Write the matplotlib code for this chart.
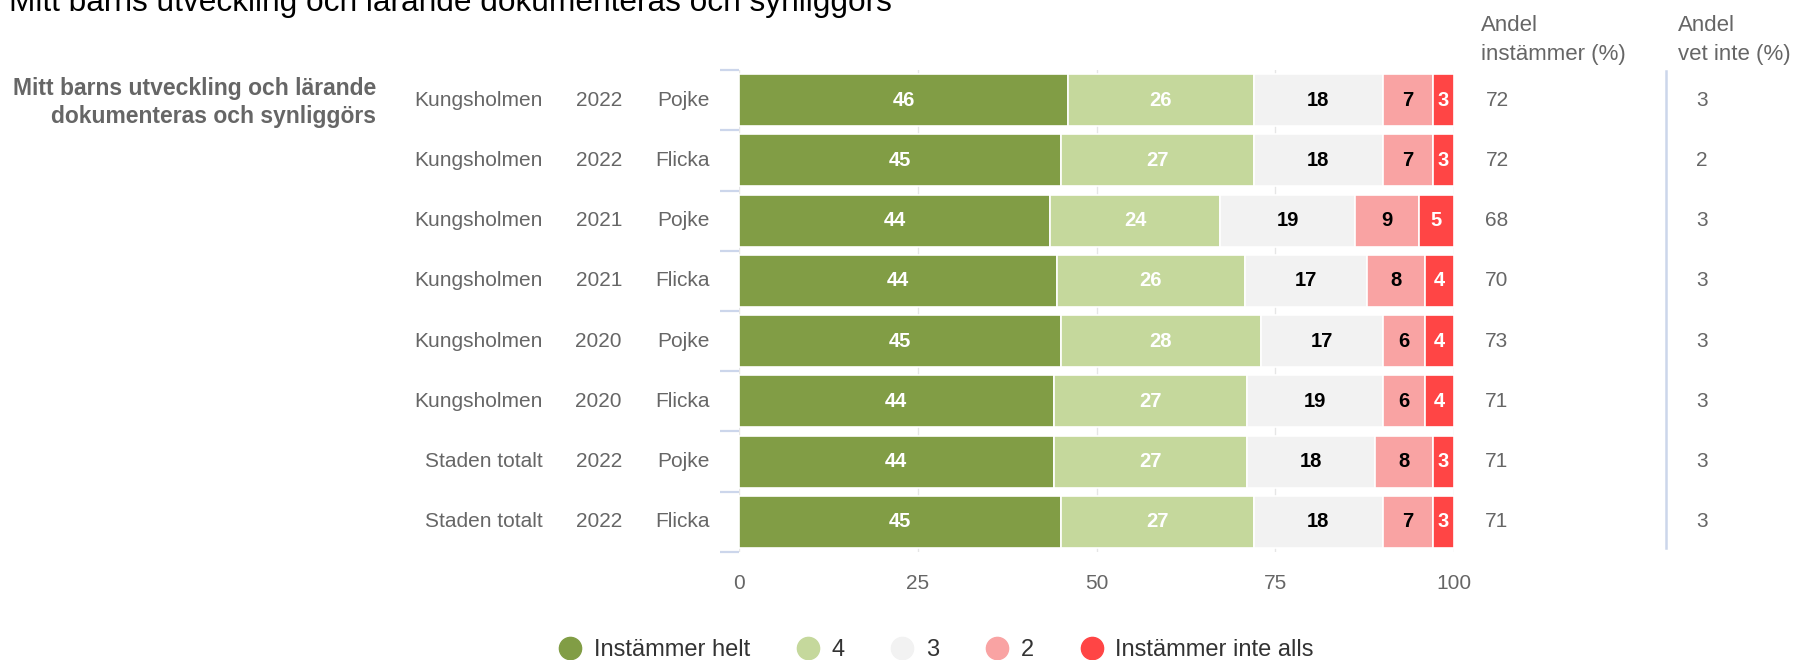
import matplotlib
matplotlib.use('Agg')
import matplotlib.pyplot as plt
import numpy as np
from matplotlib.lines import Line2D
import matplotlib.transforms as mtransforms

plt.rcParams['font.family'] = ['Liberation Sans', 'DejaVu Sans']

# ---------------- data ----------------
title = 'Mitt barns utveckling och lärande dokumenteras och synliggörs'
question = ['Mitt barns utveckling och lärande', 'dokumenteras och synliggörs']
areas = ['Kungsholmen'] * 6 + ['Staden totalt'] * 2
years = ['2022', '2022', '2021', '2021', '2020', '2020', '2022', '2022']
genders = ['Pojke', 'Flicka', 'Pojke', 'Flicka', 'Pojke', 'Flicka', 'Pojke', 'Flicka']

helt = [46, 45, 44, 44, 45, 44, 44, 45]
s4 = [26, 27, 24, 26, 28, 27, 27, 27]
s3 = [18, 18, 19, 17, 17, 19, 18, 18]
s2 = [7, 7, 9, 8, 6, 6, 8, 7]
inte = [3, 3, 5, 4, 4, 4, 3, 3]

andel_instammer = [72, 72, 68, 70, 73, 71, 71, 71]
andel_vet_inte = [3, 2, 3, 3, 3, 3, 3, 3]

series_names = ['Instämmer helt', '4', '3', '2', 'Instämmer inte alls']
colors = ['#819d45', '#c5d89c', '#f2f2f2', '#f9a3a3', '#ff4545']
label_colors = ['white', 'white', 'black', 'black', 'white']
x_ticks = [0, 25, 50, 75, 100]
header_instammer = ['Andel', 'instämmer (%)']
header_vet_inte = ['Andel', 'vet inte (%)']

# ---------------- figure ----------------
W, H = 1804, 660
fig = plt.figure(figsize=(W / 100, H / 100), dpi=100)
fig.patch.set_facecolor('white')

def fx(px):
    return px / W

def fy(py):
    return 1 - py / H

ax = fig.add_axes([fx(739), fy(552), fx(1454) - fx(739), fy(70) - fy(552)])

series = [helt, s4, s3, s2, inte]
values = np.array(series, dtype=float)
totals = values.sum(axis=0)
norm = values / totals * 100
n = values.shape[1]
ypos = np.arange(n)
left = np.zeros(n)
for k in range(5):
    ax.barh(ypos, norm[k], left=left, height=0.86, color=colors[k],
            edgecolor='white', linewidth=1.2, zorder=3)
    for i in range(n):
        ax.text(left[i] + norm[k][i] / 2, ypos[i], f'{int(values[k][i])}',
                ha='center', va='center', color=label_colors[k],
                fontsize=14.5, fontweight='bold', zorder=4)
    left = left + norm[k]

ax.set_xlim(0, 100)
ax.set_ylim(n - 0.5, -0.5)
ax.set_xticks(x_ticks)
ax.set_xticklabels([str(t) for t in x_ticks])
ax.tick_params(axis='x', length=0, pad=16, labelsize=15, labelcolor='#666666')
ax.set_yticks([])
ax.set_yticks(np.arange(-0.5, n, 1), minor=True)
ax.tick_params(axis='y', which='minor', length=13.7, width=1.6,
               color='#ccd6eb', left=True)
for s in ax.spines.values():
    s.set_visible(False)
ax.set_axisbelow(True)
ax.xaxis.grid(True, color='#e6e6e6', linewidth=1, zorder=0)

# category label columns
tr = mtransforms.blended_transform_factory(fig.transFigure, ax.transData)
for i in range(n):
    ax.text(fx(543), ypos[i], areas[i], transform=tr, ha='right', va='center',
            fontsize=15, color='#666666')
    ax.text(fx(622), ypos[i], years[i], transform=tr, ha='right', va='center',
            fontsize=15, color='#666666')
    ax.text(fx(710), ypos[i], genders[i], transform=tr, ha='right', va='center',
            fontsize=15, color='#666666')
    ax.text(fx(1497), ypos[i], str(andel_instammer[i]), transform=tr,
            ha='center', va='center', fontsize=15, color='#666666')
    ax.text(fx(1702), ypos[i], str(andel_vet_inte[i]), transform=tr,
            ha='center', va='center', fontsize=15, color='#666666')

# question label (bold)
fig.text(fx(376), fy(88), question[0], ha='right', va='center', fontsize=16.5,
         fontweight='bold', color='#666666')
fig.text(fx(376), fy(117), question[1], ha='right', va='center', fontsize=16.5,
         fontweight='bold', color='#666666')

# column headers
fig.text(fx(1481), fy(31), header_instammer[0], ha='left', va='baseline',
         fontsize=16, color='#666666')
fig.text(fx(1481), fy(60), header_instammer[1], ha='left', va='baseline',
         fontsize=16, color='#666666')
fig.text(fx(1678), fy(31), header_vet_inte[0], ha='left', va='baseline',
         fontsize=16, color='#666666')
fig.text(fx(1678), fy(60), header_vet_inte[1], ha='left', va='baseline',
         fontsize=16, color='#666666')

# separator line
fig.add_artist(Line2D([fx(1666), fx(1666)], [fy(71), fy(548)],
                      transform=fig.transFigure, color='#ccd6eb', linewidth=1.8))

# title (partly cut off at top)
fig.text(fx(9), fy(11), title, ha='left', va='baseline', fontsize=22.8,
         color='#000000')

# legend
handles = [Line2D([0], [0], marker='o', linestyle='none', markersize=16,
                  markerfacecolor=c, markeredgecolor=c) for c in colors]
leg = fig.legend(handles, series_names, loc='center', ncol=5,
                 bbox_to_anchor=(fx(936), fy(650)), frameon=False,
                 fontsize=17, handlelength=1.0, handletextpad=0.5,
                 columnspacing=1.95, borderaxespad=0)
for t in leg.get_texts():
    t.set_color('#333333')

fig.savefig('out.png', dpi=100, facecolor='white')
